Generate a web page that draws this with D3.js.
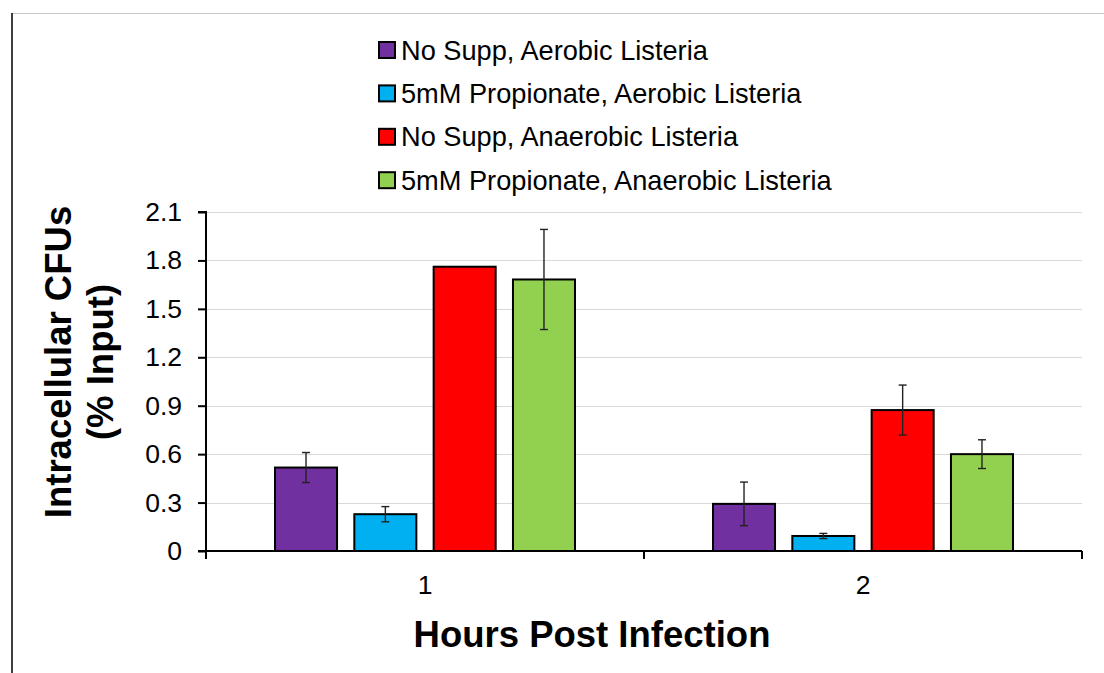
<!DOCTYPE html>
<html>
<head>
<meta charset="utf-8">
<script src="https://cdn.jsdelivr.net/npm/d3@7"></script>
<style>
  html, body { margin: 0; padding: 0; background: #fff; }
  svg { display: block; font-family: "Liberation Sans", Arial, sans-serif; }
</style>
</head>
<body>
<svg id="chart" width="1104" height="673"></svg>
<script>
// hours post infection
var hours = ["1", "2"];

var seriesNames = [
	"No Supp, Aerobic Listeria",
	"5mM Propionate, Aerobic Listeria",
	"No Supp, Anaerobic Listeria",
	"5mM Propionate, Anaerobic Listeria"
];

var seriesColors = ["#7030A0", "#00B0F0", "#FF0000", "#92D050"];

// mean values per series, one entry per hour
var noSuppAero = [0.517, 0.292];
var propAero = [0.228, 0.093];
var noSuppAnaero = [1.761, 0.873];
var propAnaero = [1.682, 0.600];

// error bar half-widths
var noSuppAeroErr = [0.093, 0.135];
var propAeroErr = [0.047, 0.016];
var noSuppAnaeroErr = [0, 0.155];
var propAnaeroErr = [0.31, 0.089];

var yTicks = [0, 0.3, 0.6, 0.9, 1.2, 1.5, 1.8, 2.1];

var values = [noSuppAero, propAero, noSuppAnaero, propAnaero];
var errors = [noSuppAeroErr, propAeroErr, noSuppAnaeroErr, propAnaeroErr];

const svg = d3.select("#chart");

const margin = {top: 212, right: 22, bottom: 122, left: 206};
const width = 1104, height = 673;

// outer frame
svg.append("line")
	.attr("x1", 12).attr("x2", width)
	.attr("y1", 13.5).attr("y2", 13.5)
	.attr("stroke", "#c8c8c8").attr("stroke-width", 1);
svg.append("line")
	.attr("x1", 12).attr("x2", 12)
	.attr("y1", 13).attr("y2", height)
	.attr("stroke", "#000").attr("stroke-width", 1.5);

let x0 = d3.scaleBand()
	.domain(hours)
	.range([margin.left, width - margin.right]);

let x1 = d3.scaleBand()
	.domain(d3.range(seriesNames.length))
	.range([0, x0.bandwidth()])
	.paddingInner(0.218)
	.paddingOuter(0.87);

let y = d3.scaleLinear()
	.domain([0, 2.1])
	.range([height - margin.bottom, margin.top]);

// gridlines
svg.append("g")
	.selectAll("line")
	.data(yTicks.slice(1))
	.join("line")
	.attr("x1", margin.left).attr("x2", width - margin.right)
	.attr("y1", d => Math.round(y(d)) + 0.5).attr("y2", d => Math.round(y(d)) + 0.5)
	.attr("stroke", "#d9d9d9").attr("stroke-width", 1.2);

// y axis
const yAxis = svg.append("g")
	.attr("transform", "translate(" + margin.left + ",0)")
	.call(d3.axisLeft(y).tickValues(yTicks).tickSize(8).tickPadding(16)
		.tickFormat(d => d === 0 ? "0" : d3.format(".1f")(d)));
yAxis.select(".domain").attr("stroke-width", 2).attr("d", "M-8," + y(2.1) + "H0V" + y(0));
yAxis.selectAll(".tick line").attr("stroke-width", 2);
yAxis.selectAll(".tick text")
	.attr("font-size", 26.5).attr("fill", "#000")
	.attr("font-family", "Liberation Sans, Arial, sans-serif");

// bars
const groups = svg.append("g")
	.selectAll("g")
	.data(hours)
	.join("g")
	.attr("transform", d => "translate(" + x0(d) + ",0)");

groups.selectAll("rect")
	.data((d, i) => values.map((s, k) => ({k: k, v: s[i], e: errors[k][i]})))
	.join("rect")
	.attr("x", d => x1(d.k))
	.attr("width", x1.bandwidth())
	.attr("y", d => y(d.v))
	.attr("height", d => y(0) - y(d.v))
	.attr("fill", d => seriesColors[d.k])
	.attr("stroke", "#000")
	.attr("stroke-width", 2);

// error bars
const err = groups.selectAll("g.err")
	.data((d, i) => values.map((s, k) => ({k: k, v: s[i], e: errors[k][i]})).filter(d => d.e > 0))
	.join("g")
	.attr("class", "err")
	.attr("stroke", "#222")
	.attr("stroke-width", 1.4);

err.append("line")
	.attr("x1", d => x1(d.k) + x1.bandwidth() / 2)
	.attr("x2", d => x1(d.k) + x1.bandwidth() / 2)
	.attr("y1", d => y(d.v + d.e))
	.attr("y2", d => y(d.v - d.e));
err.selectAll("line.cap")
	.data(d => [{c: d, s: 1}, {c: d, s: -1}])
	.join("line")
	.attr("class", "cap")
	.attr("x1", d => x1(d.c.k) + x1.bandwidth() / 2 - 4)
	.attr("x2", d => x1(d.c.k) + x1.bandwidth() / 2 + 4)
	.attr("y1", d => y(d.c.v + d.s * d.c.e))
	.attr("y2", d => y(d.c.v + d.s * d.c.e));

// x axis
const xAxis = svg.append("g")
	.attr("transform", "translate(0," + y(0) + ")");
xAxis.append("line")
	.attr("x1", margin.left - 8).attr("x2", width - margin.right)
	.attr("stroke", "#000").attr("stroke-width", 2);
xAxis.selectAll("line.bt")
	.data(x0.domain().map(d => x0(d)).concat([width - margin.right]))
	.join("line")
	.attr("class", "bt")
	.attr("x1", d => d).attr("x2", d => d)
	.attr("y1", 0).attr("y2", 8)
	.attr("stroke", "#000").attr("stroke-width", 2);
xAxis.selectAll("text")
	.data(hours)
	.join("text")
	.attr("x", d => x0(d) + x0.bandwidth() / 2)
	.attr("y", 43)
	.attr("text-anchor", "middle")
	.attr("font-size", 26.5)
	.text(d => d);

// axis titles
svg.append("text")
	.attr("x", 592)
	.attr("y", 647)
	.attr("text-anchor", "middle")
	.attr("font-size", 36.5)
	.attr("font-weight", "bold")
	.text("Hours Post Infection");

const yTitle = svg.append("text")
	.attr("transform", "translate(71,362) rotate(-90)")
	.attr("text-anchor", "middle")
	.attr("font-size", 36.5)
	.attr("font-weight", "bold");
yTitle.append("tspan").attr("x", 0).attr("y", 0).text("Intracellular CFUs");
yTitle.append("tspan").attr("x", 0).attr("y", 42).text("(% Input)");

// legend
const legend = svg.append("g")
	.selectAll("g")
	.data(seriesNames)
	.join("g")
	.attr("transform", (d, i) => "translate(379," + (50 + i * 43.4) + ")");
legend.append("rect")
	.attr("x", 0).attr("y", -8)
	.attr("width", 16).attr("height", 16)
	.attr("fill", (d, i) => seriesColors[i])
	.attr("stroke", "#000").attr("stroke-width", 2);
legend.append("text")
	.attr("x", 22).attr("y", 9.5)
	.attr("font-size", 27.2)
	.text(d => d);
</script>
</body>
</html>
